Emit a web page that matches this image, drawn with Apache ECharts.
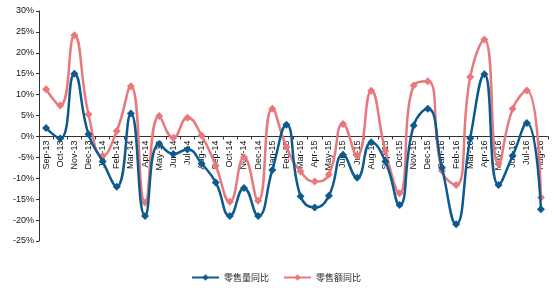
<!DOCTYPE html>
<html><head><meta charset="utf-8">
<script src="https://cdn.jsdelivr.net/npm/echarts@6/dist/echarts.min.js"></script>
<style>html,body{margin:0;padding:0;background:#fff}#c{width:554px;height:288px}</style>
</head><body><div id="c"></div>
<script>
const categories = ['Sep-13','Oct-13','Nov-13','Dec-13','Jan-14','Feb-14','Mar-14','Apr-14','May-14','Jun-14','Jul-14','Aug-14','Sep-14','Oct-14','Nov-14','Dec-14','Jan-15','Feb-15','Mar-15','Apr-15','May-15','Jun-15','Jul-15','Aug-15','Sep-15','Oct-15','Nov-15','Dec-15','Jan-16','Feb-16','Mar-16','Apr-16','May-16','Jun-16','Jul-16','Aug-16'];
const volumeYoY = [2,-0.5,15,0.5,-6,-12,5.5,-19,-1.8,-4.2,-3.1,-6.5,-11,-19,-12.3,-19,-8,2.8,-14.3,-17,-14.2,-4.4,-9.9,-1.4,-6,-16.4,2.6,6.6,-7.5,-21,-0.4,14.9,-11.6,-4.6,3.2,-17.4];
const valueYoY = [11.3,7.4,24.2,5.3,-4.7,1.3,12,-15.8,4.9,-0.3,4.5,0.2,-7,-15.6,-5,-15.4,6.6,-2.5,-8.4,-10.8,-9.1,3,-4.6,10.9,-3.5,-13.6,12.2,13.2,-8.2,-11.6,14.2,23.2,-6.6,6.6,11,-14.6];
const seriesNames = ['零售量同比','零售额同比'];
const yMin = -25, yMax = 30;

const chart = echarts.init(document.getElementById('c'), null, {renderer:'canvas'});
const font = 'Liberation Sans, Arial, sans-serif';
const gridTop = 11, gridBottom = 47, H = 288;
const gridH = H - gridTop - gridBottom;
const zeroOffset = gridH * (0 - yMin) / (yMax - yMin);
chart.setOption({
  animation:false,
  grid:{left:39,right:6,top:gridTop,bottom:gridBottom},
  legend:{
    bottom:1, left:186, itemWidth:27, itemHeight:8, itemGap:14,
    textStyle:{fontFamily:'Noto Sans CJK SC', fontSize:9, color:'#222', padding:[0,0,0,0]},
    data:seriesNames
  },
  xAxis:{
    type:'category', data:categories, boundaryGap:true,
    offset:-zeroOffset,
    axisLine:{onZero:false, lineStyle:{color:'#333', width:1}},
    axisTick:{show:true, length:3, lineStyle:{color:'#333'}},
    axisLabel:{rotate:90, interval:0, fontSize:9, color:'#111', fontFamily:font, margin:4}
  },
  yAxis:{
    type:'value', min:yMin, max:yMax, interval:5,
    axisLine:{show:true, lineStyle:{color:'#333'}},
    axisTick:{show:true, length:3, lineStyle:{color:'#333'}},
    splitLine:{show:false},
    axisLabel:{formatter:'{value}%', fontSize:9, color:'#111', fontFamily:font, margin:5}
  },
  series:[
    {name:seriesNames[0], type:'line', data:volumeYoY, smooth:0.5, symbol:'diamond', symbolSize:8,
     lineStyle:{color:'#0d5a8f', width:2.5}, itemStyle:{color:'#0d5a8f'}, z:3},
    {name:seriesNames[1], type:'line', data:valueYoY, smooth:0.5, symbol:'diamond', symbolSize:8,
     lineStyle:{color:'#e8787b', width:2.5}, itemStyle:{color:'#e8787b'}, z:2}
  ]
});
</script></body></html>
